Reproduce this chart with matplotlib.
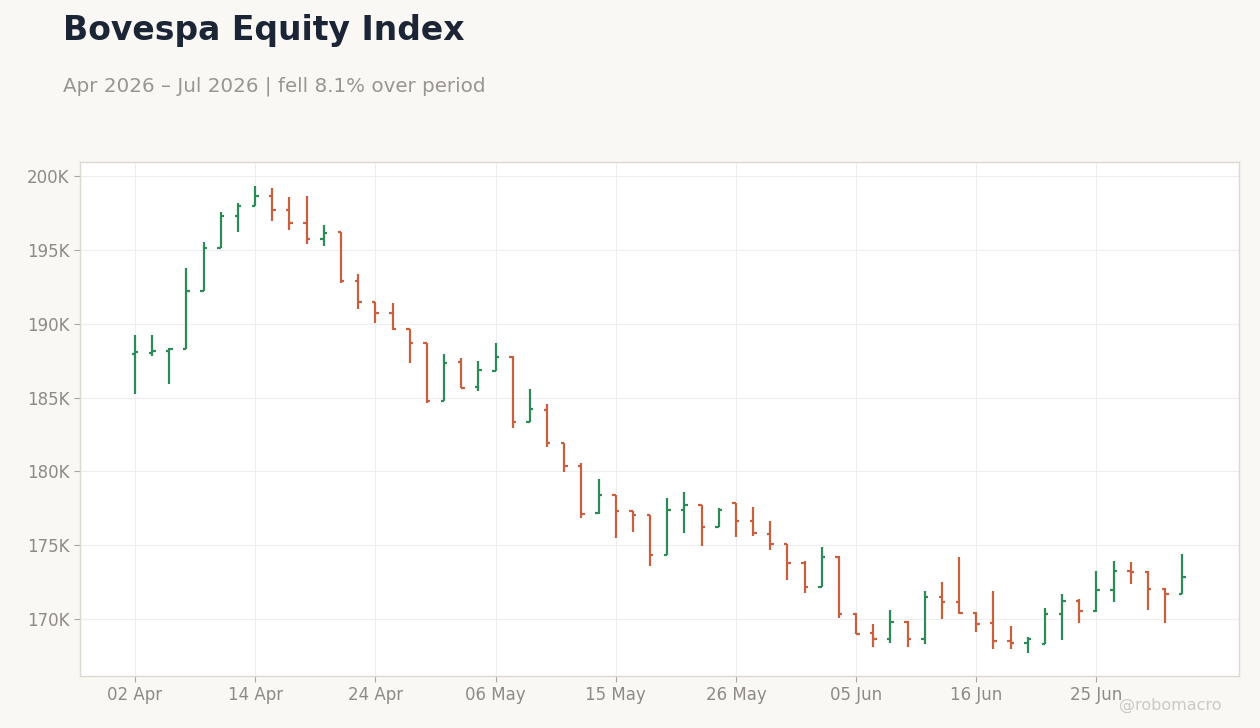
import matplotlib
matplotlib.use("Agg")
import matplotlib.pyplot as plt
from matplotlib.ticker import FuncFormatter, FixedLocator

dates = ["02 Apr", "06 Apr", "07 Apr", "08 Apr", "09 Apr", "10 Apr", "13 Apr", "14 Apr",
         "15 Apr", "16 Apr", "17 Apr", "20 Apr", "22 Apr", "23 Apr", "24 Apr", "27 Apr",
         "28 Apr", "29 Apr", "30 Apr", "04 May", "05 May", "06 May", "07 May", "08 May",
         "11 May", "12 May", "13 May", "14 May", "15 May", "18 May", "19 May", "20 May",
         "21 May", "22 May", "25 May", "26 May", "27 May", "28 May", "29 May", "01 Jun",
         "02 Jun", "03 Jun", "05 Jun", "08 Jun", "09 Jun", "10 Jun", "11 Jun", "12 Jun",
         "15 Jun", "16 Jun", "17 Jun", "18 Jun", "19 Jun", "22 Jun", "23 Jun", "24 Jun",
         "25 Jun", "26 Jun", "29 Jun", "30 Jun", "01 Jul", "02 Jul"]

open_ = [187970, 188050, 188170, 188280, 192210, 195120, 197310, 197990, 198670, 197700,
         196840, 195760, 196190, 192920, 191460, 190760, 189630, 188680, 184800, 187390,
         185700, 186830, 187750, 183330, 184180, 181930, 180370, 177170, 178410, 177350,
         177050, 174350, 177390, 177730, 176240, 177870, 176620, 175790, 175110, 173830,
         172180, 174230, 170370, 169070, 168670, 169820, 168670, 171520, 171180, 170430,
         169710, 168490, 168360, 168330, 170380, 171240, 170520, 171980, 173290, 173220,
         172070, 171730]
high = [189230, 189230, 188330, 193750, 195530, 197540, 198150, 199320, 199160, 198580,
        198650, 196680, 196200, 193400, 191460, 191370, 189650, 188680, 187960, 187690,
        187480, 188700, 187820, 185590, 184570, 181930, 180550, 179470, 178410, 177350,
        177050, 178230, 178590, 177750, 177550, 177890, 177620, 176650, 175110, 173940,
        174890, 174260, 170440, 169640, 170610, 169840, 171900, 172510, 174210, 170490,
        171910, 169550, 168760, 170770, 171710, 171370, 173270, 173940, 173870, 173270,
        172120, 174410]
low = [185260, 187830, 185940, 188280, 192210, 195120, 196230, 197990, 196980, 196370,
       195420, 195280, 192740, 191000, 190030, 189600, 187330, 184640, 184800, 185650,
       185430, 186810, 182920, 183330, 181680, 179970, 176850, 177140, 175500, 175900,
       173600, 174350, 175840, 174950, 176220, 175560, 175620, 174710, 172670, 171790,
       172180, 170060, 168970, 168120, 168390, 168120, 168330, 170020, 170370, 169150,
       167950, 167950, 167680, 168310, 168560, 169710, 170500, 171130, 172410, 170590,
       169710, 171710]
close = [188100, 188150, 188310, 192230, 195120, 197310, 197990, 198670, 197700, 196840,
         195730, 196160, 192920, 191460, 190760, 189630, 188680, 184800, 187370, 185680,
         186850, 187730, 183330, 184210, 181950, 180370, 177120, 178410, 177330, 177050,
         174350, 177390, 177730, 176240, 177390, 176650, 175820, 175110, 173830, 172180,
         174210, 170370, 168990, 168670, 169820, 168670, 171520, 171180, 170410, 169690,
         168490, 168360, 168630, 170380, 171240, 170520, 171980, 173290, 173220, 172070,
         171730, 172820]

tick_idx = [0, 7, 14, 21, 28, 35, 42, 49, 56]

UP = "#2e8b57"
DOWN = "#c8603f"
BG = "#f9f8f5"
TXT = "#8f8a85"

fig = plt.figure(figsize=(12.6, 7.28), dpi=100, facecolor=BG)
ax = fig.add_axes([80/1260, 1-676/728, (1239-80)/1260, (676-162)/728])
ax.set_facecolor("white")

x = list(range(len(dates)))
tw = 0.2
for i in x:
    c = UP if close[i] >= open_[i] else DOWN
    ax.vlines(i, low[i], high[i], color=c, linewidth=1.6, capstyle="butt", zorder=3)
    ax.hlines(open_[i], i - tw, i, color=c, linewidth=1.6, zorder=3)
    ax.hlines(close[i], i, i + tw, color=c, linewidth=1.6, zorder=3)

ax.set_xlim(-3.2, 64.3)
ax.set_ylim(166150, 200950)
ax.yaxis.set_major_locator(FixedLocator([170000, 175000, 180000, 185000, 190000, 195000, 200000]))
ax.yaxis.set_major_formatter(FuncFormatter(lambda v, p: f"{v/1000:.0f}K"))
ax.set_xticks(tick_idx)
ax.set_xticklabels([dates[i] for i in tick_idx])

ax.grid(True, color="#eeeeee", linewidth=0.8, zorder=0)
ax.set_axisbelow(True)
for s in ax.spines.values():
    s.set_color("#ddd8d0")
    s.set_linewidth(1.0)
ax.tick_params(axis="both", colors="#aaa5a0", labelcolor=TXT, labelsize=12, length=4, width=0.8)

fig.text(63/1260, 1-40/728, "Bovespa Equity Index", fontsize=23.8, fontweight="bold",
         color="#1c2536", va="baseline", ha="left")
fig.text(63/1260, 1-92/728, "Apr 2026 \u2013 Jul 2026 | fell 8.1% over period", fontsize=14.3,
         color="#9a9590", va="baseline", ha="left")
fig.text(1222/1260, 1-710/728, "@robomacro", fontsize=11.5, color="#cdc9c3",
         va="baseline", ha="right")

fig.savefig("out.png", dpi=100, facecolor=BG)
